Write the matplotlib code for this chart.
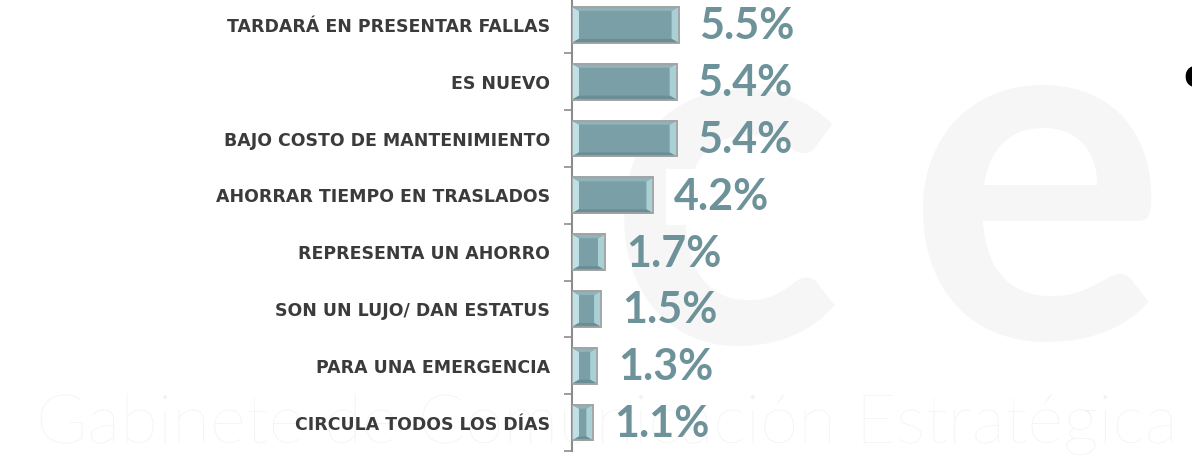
import numpy as np
import matplotlib.pyplot as plt
from matplotlib.patches import Polygon

# Data
categories = [
    "TARDARÁ EN PRESENTAR FALLAS",
    "ES NUEVO",
    "BAJO COSTO DE MANTENIMIENTO",
    "AHORRAR TIEMPO EN TRASLADOS",
    "REPRESENTA UN AHORRO",
    "SON UN LUJO/ DAN ESTATUS",
    "PARA UNA EMERGENCIA",
    "CIRCULA TODOS LOS DÍAS",
]
values = [5.5, 5.4, 5.4, 4.2, 1.7, 1.5, 1.3, 1.1]
value_labels = ["5.5%", "5.4%", "5.4%", "4.2%", "1.7%", "1.5%", "1.3%", "1.1%"]

bar_color = "#7a9fa6"
light_bevel = "#bfe0e4"
dark_bevel = "#6a8e95"
value_color = "#6e9299"
label_color = "#3b3b3b"

fig = plt.figure(figsize=(11.92, 4.61), dpi=100)

# faint watermark in the background
fig.text(0.03, 0.04, "Gabinete de Comunicación Estratégica", fontsize=50,
         family="Lato", fontweight="light", color="#f2f2f2", ha="left", va="baseline", zorder=0)
fig.text(0.608, 0.56, "c", fontsize=350, family="Lato", fontweight="bold",
         color="#f6f6f6", ha="center", va="center", zorder=0)
fig.text(0.87, 0.57, "e", fontsize=350, family="Lato", fontweight="bold",
         color="#f6f6f6", ha="center", va="center", zorder=0)

ax = fig.add_axes([572 / 1192, 10 / 461, 620 / 1192, 454.5 / 461])
ax.set_zorder(2)
ax.patch.set_alpha(0)

y = np.arange(len(categories))
h = 0.63
ax.barh(y, values, height=h, color=bar_color, edgecolor="#a3a3a3", linewidth=1.2, zorder=3)

# bevel effect
bx = 0.36   # end bevel width (data units)
by = 0.07   # top/bottom bevel height
for yi, v in zip(y, values):
    top = yi - h / 2
    bot = yi + h / 2
    bw = min(bx, v / 2.6)
    ax.add_patch(Polygon([(0, top), (bw, top + by), (bw, bot - by), (0, bot)],
                         closed=True, facecolor=light_bevel, edgecolor="none", zorder=4))
    ax.add_patch(Polygon([(v, top), (v - bw, top + by), (v - bw, bot - by), (v, bot)],
                         closed=True, facecolor="#a9d0d5", edgecolor="none", zorder=4))
    ax.add_patch(Polygon([(0, top), (v, top), (v - bw, top + by), (bw, top + by)],
                         closed=True, facecolor="#8fb3b9", edgecolor="none", zorder=4))
    ax.add_patch(Polygon([(0, bot), (v, bot), (v - bw, bot - by), (bw, bot - by)],
                         closed=True, facecolor=dark_bevel, edgecolor="none", zorder=4))
    ax.add_patch(Polygon([(0, top), (v, top), (v, bot), (0, bot)], closed=True,
                         facecolor="none", edgecolor="#a3a3a3", linewidth=1.2, zorder=5))

for i, (v, lab) in enumerate(zip(values, value_labels)):
    box = dict(facecolor="white", edgecolor="none", pad=6) if lab == "4.2%" else None
    ax.annotate(lab, (v, i), xytext=(15, -1), textcoords="offset points",
                ha="left", va="center", fontsize=31, family="Lato", fontweight="bold",
                color=value_color, bbox=box, zorder=6)

ax.set_xlim(0, 32)
ax.set_ylim(len(categories) - 0.5, -0.5)

ax.set_yticks(y)
ax.set_yticklabels(categories, fontsize=12.5, fontweight="bold", color=label_color)
ax.tick_params(axis="y", which="major", length=0, pad=16)
ax.set_yticks(np.arange(-0.5, len(categories)), minor=True)
ax.tick_params(axis="y", which="minor", length=6, width=1.2, color="#8c8c8c")
ax.set_xticks([])

for s in ["top", "right", "bottom"]:
    ax.spines[s].set_visible(False)
ax.spines["left"].set_color("#8c8c8c")
ax.spines["left"].set_linewidth(1.5)

# cut-off letter at the right edge
fig.text(1183 / 1192, 1 - 76 / 461, "e", fontsize=28, fontweight="bold",
         color="black", ha="left", va="center")

fig.savefig("out.png", dpi=100)
